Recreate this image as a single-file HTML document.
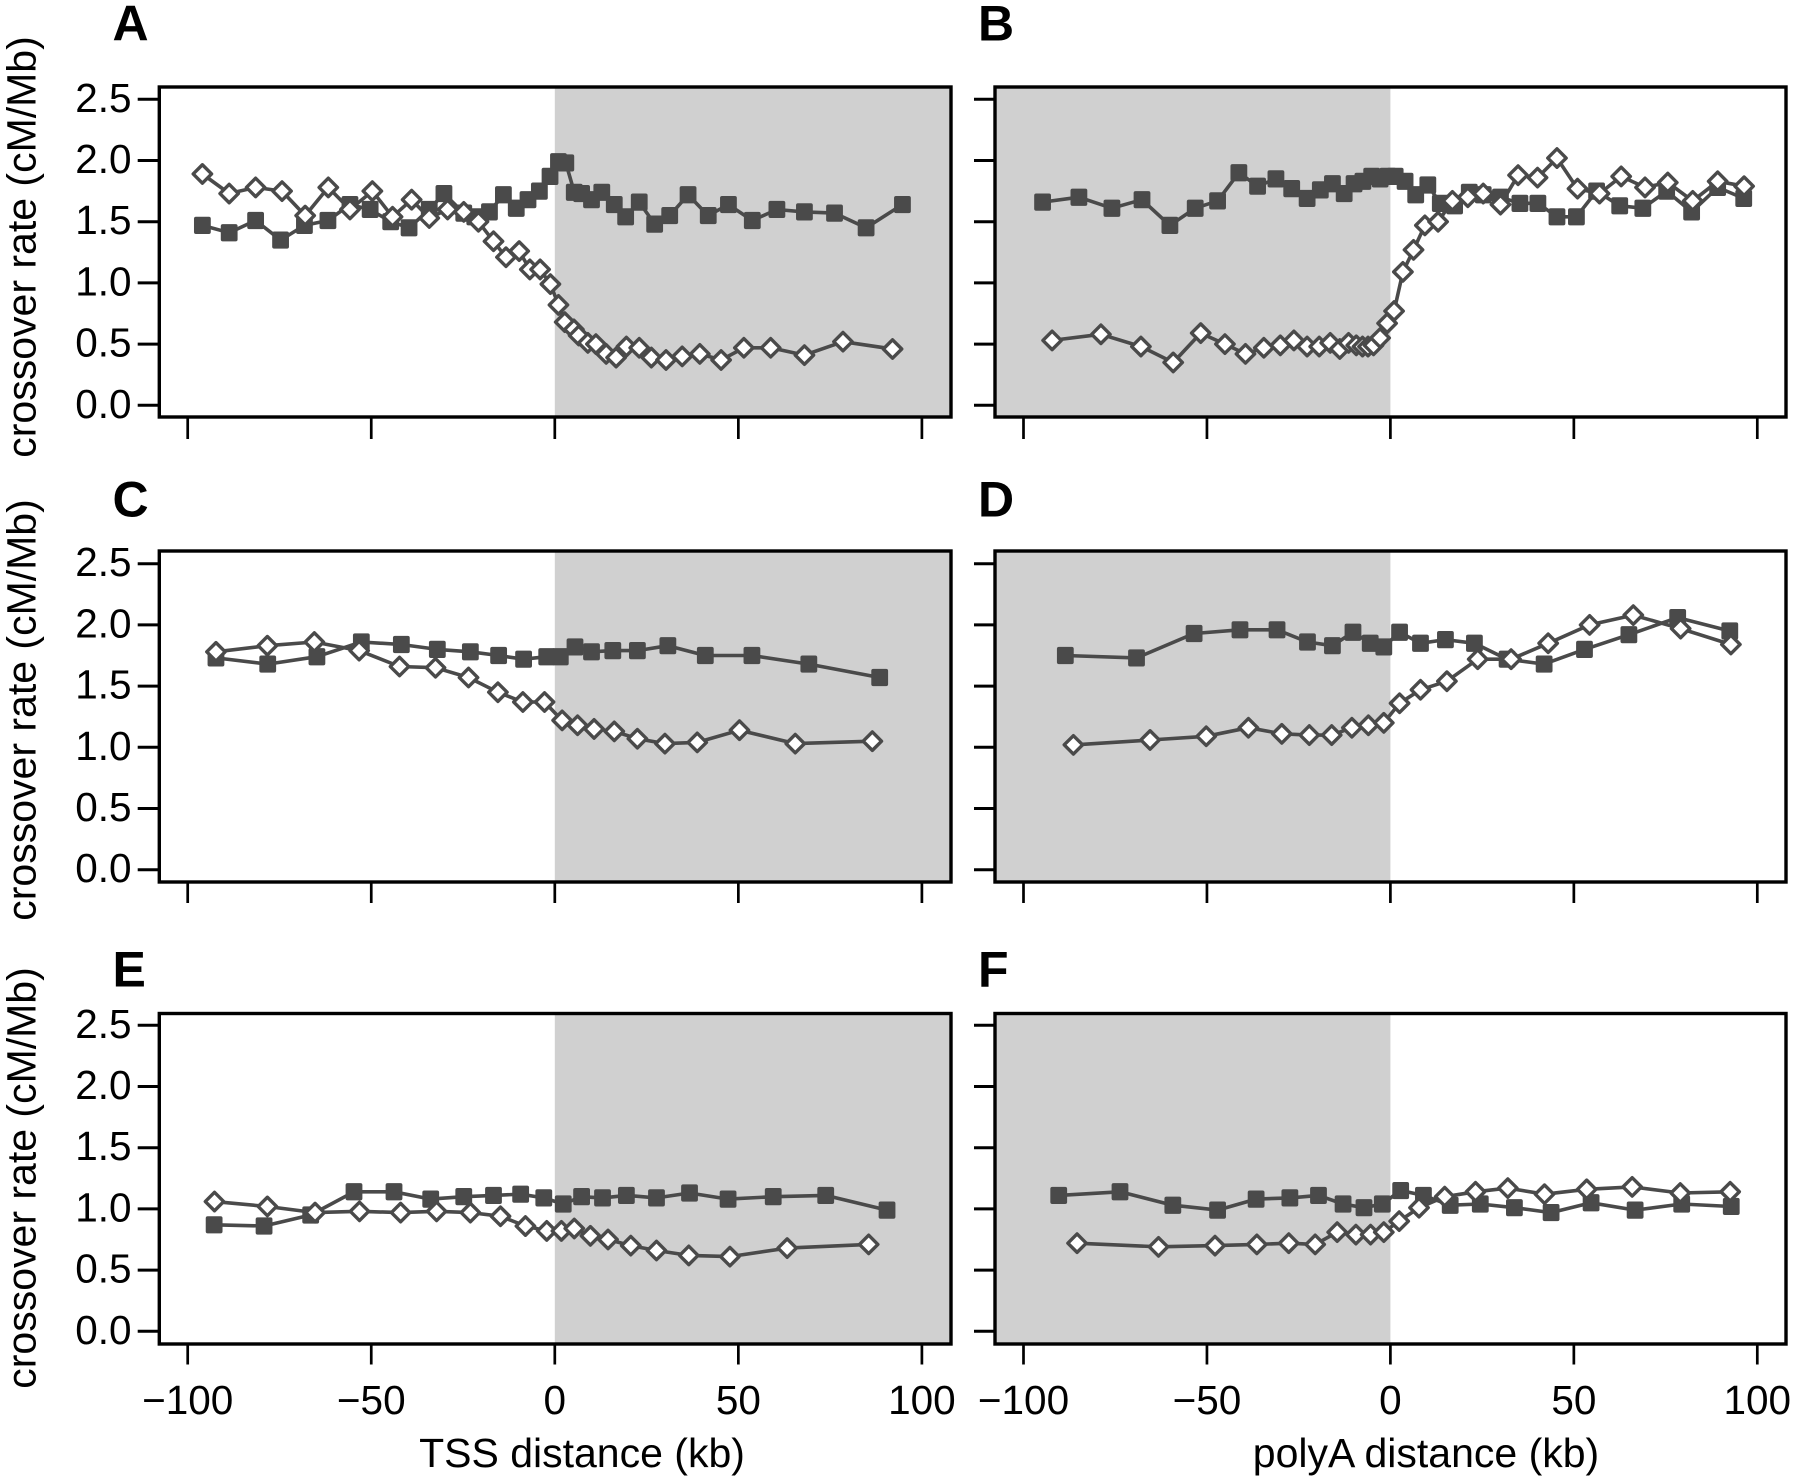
<!DOCTYPE html>
<html lang="en">
<head>
<meta charset="utf-8">
<title>Crossover rate versus TSS and polyA distance</title>
<style>
html,body{margin:0;padding:0;background:#fff;}
svg{display:block;font-family:"Liberation Sans",Arial,sans-serif;}
</style>
</head>
<body>
<svg id="figure" xmlns="http://www.w3.org/2000/svg" width="1800" height="1480" viewBox="0 0 1800 1480"></svg>
<script>
const yTickValues = [0, 0.5, 1, 1.5, 2, 2.5];
const xTickValues = [-100, -50, 0, 50, 100];
const panelIds = ["A", "B", "C", "D", "E", "F"];
const xTitles = ["TSS distance (kb)", "polyA distance (kb)"];
const yTitle = "crossover rate (cM/Mb)";

const aSquareKb = [-96,-88.7,-81.5,-74.7,-68.2,-61.8,-55.8,-50.3,-44.7,-39.7,-34.2,-30.2,-24.8,-21.8,-17.8,-14,-10.5,-7.3,-4.2,-1.3,1,3,5.3,7.3,10,12.8,16.2,19.3,23,27.2,31.3,36.3,41.8,47.3,53.8,60.5,68,76.2,84.8,94.7];
const aSquareRate = [1.47,1.41,1.51,1.35,1.47,1.51,1.64,1.60,1.50,1.45,1.60,1.73,1.57,1.54,1.58,1.72,1.61,1.68,1.75,1.87,1.99,1.98,1.74,1.73,1.68,1.74,1.64,1.54,1.66,1.48,1.55,1.72,1.55,1.64,1.51,1.60,1.58,1.57,1.45,1.64];
const aDiamondKb = [-96,-88.7,-81.5,-74.3,-68,-61.7,-55.8,-49.7,-44.2,-39,-34.2,-29.2,-24.8,-20.8,-16.7,-13.3,-9.7,-6.8,-4,-1.2,1,2.7,5.2,6.5,9,11.2,14,16.7,19.5,23,26.3,30.3,34.7,39.5,45.3,51.5,58.8,68,78.5,92];
const aDiamondRate = [1.89,1.73,1.78,1.75,1.55,1.78,1.60,1.75,1.54,1.68,1.53,1.60,1.58,1.50,1.34,1.21,1.26,1.11,1.11,0.99,0.82,0.68,0.62,0.57,0.51,0.50,0.42,0.39,0.48,0.47,0.39,0.37,0.40,0.42,0.37,0.47,0.47,0.41,0.52,0.46];

const bSquareKb = [-94.8,-84.9,-75.9,-67.7,-60.1,-53.2,-47.1,-41.3,-36.2,-31.2,-26.9,-22.7,-19.1,-15.8,-12.6,-9.9,-7.5,-5.1,-2.8,-0.7,1.3,4,6.9,10.2,13.6,17.5,21.5,25.3,30,35.3,40.2,45.4,50.7,56.2,62.5,68.8,75.3,82.1,89.2,96.3];
const bSquareRate = [1.66,1.70,1.61,1.68,1.47,1.61,1.67,1.90,1.79,1.85,1.77,1.69,1.76,1.81,1.73,1.81,1.83,1.87,1.85,1.87,1.87,1.83,1.72,1.80,1.65,1.63,1.74,1.72,1.70,1.65,1.65,1.54,1.54,1.75,1.63,1.61,1.75,1.58,1.78,1.69];
const bDiamondKb = [-92.2,-78.9,-68,-59.2,-51.7,-45.1,-39.5,-34.5,-30,-26.3,-22.7,-19.4,-16.4,-13.8,-11.4,-9.3,-7.6,-6.1,-4.6,-2.8,-0.9,1,3.4,6.3,9.4,13,16.9,21.1,25.3,30,34.8,40.1,45.4,51,57,62.9,69.4,75.6,82.4,89.2,96.4];
const bDiamondRate = [0.53,0.58,0.48,0.35,0.59,0.50,0.42,0.47,0.49,0.53,0.48,0.48,0.51,0.46,0.51,0.49,0.48,0.48,0.49,0.55,0.67,0.77,1.09,1.27,1.47,1.50,1.67,1.70,1.73,1.64,1.88,1.86,2.02,1.77,1.73,1.87,1.78,1.82,1.67,1.83,1.79];

const cSquareKb = [-92.3,-78.2,-64.8,-52.7,-41.8,-32,-23,-15.3,-8.5,-2.2,1.5,5.5,10,15.8,22.5,30.8,41,53.7,69.2,88.5];
const cSquareRate = [1.73,1.68,1.74,1.86,1.84,1.80,1.78,1.75,1.72,1.74,1.74,1.82,1.78,1.79,1.79,1.83,1.75,1.75,1.68,1.57];
const cDiamondKb = [-92.3,-78.3,-65.5,-53.3,-42.3,-32.5,-23.5,-15.5,-8.7,-2.8,2,6.2,10.7,16.2,22.5,30,38.8,50.3,65.5,86.5];
const cDiamondRate = [1.78,1.83,1.86,1.79,1.66,1.65,1.57,1.45,1.37,1.37,1.22,1.18,1.15,1.13,1.07,1.03,1.04,1.14,1.03,1.05];

const dSquareKb = [-88.6,-69.2,-53.5,-41,-30.9,-22.6,-15.8,-10.2,-5.5,-1.8,2.5,8.2,15,22.9,31.8,41.9,52.9,65,78.3,92.5];
const dSquareRate = [1.75,1.73,1.93,1.96,1.96,1.86,1.83,1.94,1.85,1.82,1.94,1.85,1.88,1.85,1.72,1.68,1.80,1.92,2.06,1.95];
const dDiamondKb = [-86.4,-65.5,-50.2,-38.7,-29.6,-22.1,-16,-10.5,-6,-1.8,2.5,8.2,15.4,23.8,32.9,43,54.3,66.2,79.1,92.8];
const dDiamondRate = [1.02,1.06,1.09,1.16,1.11,1.10,1.10,1.16,1.18,1.20,1.36,1.47,1.54,1.72,1.72,1.85,2.00,2.08,1.97,1.84];

const eSquareKb = [-92.8,-79.2,-66.5,-54.7,-43.8,-33.8,-24.8,-16.7,-9.3,-3,2.3,7.3,13,19.5,27.7,36.7,47.2,59.5,73.8,90.5];
const eSquareRate = [0.87,0.86,0.95,1.14,1.14,1.08,1.10,1.11,1.12,1.09,1.04,1.10,1.09,1.11,1.09,1.13,1.08,1.10,1.11,0.99];
const eDiamondKb = [-92.7,-78.3,-65.3,-53.2,-42,-32.2,-23,-14.8,-8,-2.2,1.8,5.3,9.7,14.5,20.7,27.7,36.5,47.7,63.3,85.5];
const eDiamondRate = [1.06,1.02,0.97,0.98,0.97,0.98,0.97,0.94,0.86,0.82,0.82,0.84,0.78,0.75,0.70,0.66,0.62,0.61,0.68,0.71];

const fSquareKb = [-90.4,-73.7,-59.3,-47.1,-36.6,-27.4,-19.6,-12.9,-7.2,-2.2,2.8,9,16.3,24.5,33.8,43.8,54.7,66.7,79.4,92.9];
const fSquareRate = [1.11,1.14,1.03,0.99,1.08,1.09,1.11,1.04,1.01,1.04,1.15,1.11,1.03,1.04,1.01,0.97,1.05,0.99,1.04,1.02];
const fDiamondKb = [-85.4,-63.2,-47.8,-36.4,-27.7,-20.5,-14.5,-9.4,-5.4,-1.8,2.4,7.8,14.8,23.2,32,42,53.5,65.9,79,92.6];
const fDiamondRate = [0.72,0.69,0.70,0.71,0.72,0.71,0.81,0.79,0.79,0.81,0.90,1.01,1.10,1.14,1.17,1.12,1.16,1.18,1.13,1.14];

const squareKbByPanel = [aSquareKb, bSquareKb, cSquareKb, dSquareKb, eSquareKb, fSquareKb];
const squareRateByPanel = [aSquareRate, bSquareRate, cSquareRate, dSquareRate, eSquareRate, fSquareRate];
const diamondKbByPanel = [aDiamondKb, bDiamondKb, cDiamondKb, dDiamondKb, eDiamondKb, fDiamondKb];
const diamondRateByPanel = [aDiamondRate, bDiamondRate, cDiamondRate, dDiamondRate, eDiamondRate, fDiamondRate];

const SVG_NS = "http://www.w3.org/2000/svg";
const INK = "#4a4a4a";
const svg = document.getElementById("figure");

// layout geometry
const columnLayout = [
  { left: 159.3, right: 951, zero: 554.8, perKb: 3.671, tickLeft: 137.7, letterX: 112.5 },
  { left: 995, right: 1786, zero: 1390.4, perKb: 3.669, tickLeft: 974, letterX: 978 }
];
const rowLayout = [
  { top: 87, bottom: 417, zero: 405.3, tickBottom: 439, letterY: 40.7, yTitleCenter: 247 },
  { top: 551, bottom: 882, zero: 869.7, tickBottom: 903, letterY: 516.3, yTitleCenter: 710 },
  { top: 1013.5, bottom: 1344, zero: 1331.3, tickBottom: 1364.5, letterY: 986.5, yTitleCenter: 1178 }
];
const PER_RATE = 122.4;

function xScale(col, kb) {
  return columnLayout[col].zero + kb * columnLayout[col].perKb;
}
function yScale(row, rate) {
  return rowLayout[row].zero - rate * PER_RATE;
}
function make(tag, parent) {
  const el = document.createElementNS(SVG_NS, tag);
  parent.appendChild(el);
  return el;
}
function setAll(el, attrs) {
  for (const k in attrs) el.setAttribute(k, attrs[k]);
}

panelIds.forEach(function (id, p) {
  const col = p % 2;
  const row = Math.floor(p / 2);
  const c = columnLayout[col];
  const r = rowLayout[row];
  const lower = id.toLowerCase();

  const g = make("g", svg);
  
  

  // shaded gene-body region
  const shade = make("rect", g);
  
  
  const shadeX0 = col === 0 ? xScale(col, 0) : c.left;
  const shadeX1 = col === 0 ? c.right : xScale(col, 0);
  setAll(shade, { x: shadeX0, y: r.top, width: shadeX1 - shadeX0, height: r.bottom - r.top, fill: "#d0d0d0" });

  // y ticks
  yTickValues.forEach(function (v) {
    const t = make("line", g);
    
    
    setAll(t, { x1: c.tickLeft, x2: c.left, y1: yScale(row, v), y2: yScale(row, v), stroke: "#000", "stroke-width": 3 });
    if (col === 0) {
      const label = make("text", g);
      
      
      setAll(label, { x: 131.5, y: yScale(row, v) + 12.5, "text-anchor": "end", "font-size": 40.5, fill: "#000" });
      label.textContent = v.toFixed(1);
    }
  });

  // x ticks
  xTickValues.forEach(function (v) {
    const t = make("line", g);
    
    
    setAll(t, { x1: xScale(col, v), x2: xScale(col, v), y1: r.bottom, y2: r.tickBottom, stroke: "#000", "stroke-width": 2.7 });
    if (row === 2) {
      const label = make("text", g);
      
      
      setAll(label, { x: xScale(col, v), y: 1414, "text-anchor": "middle", "font-size": 40.5, fill: "#000" });
      label.textContent = v < 0 ? "\u2212" + Math.abs(v) : String(v);
    }
  });

  // square series
  const squareLine = make("polyline", g);
  
  
  setAll(squareLine, {
    points: squareKbByPanel[p].map(function (k, i) { return xScale(col, k).toFixed(1) + "," + yScale(row, squareRateByPanel[p][i]).toFixed(1); }).join(" "),
    fill: "none", stroke: INK, "stroke-width": 3.6, "stroke-linejoin": "round"
  });

  // diamond series line
  const diamondLine = make("polyline", g);
  
  
  setAll(diamondLine, {
    points: diamondKbByPanel[p].map(function (k, i) { return xScale(col, k).toFixed(1) + "," + yScale(row, diamondRateByPanel[p][i]).toFixed(1); }).join(" "),
    fill: "none", stroke: INK, "stroke-width": 3.6, "stroke-linejoin": "round"
  });

  // square markers
  squareKbByPanel[p].forEach(function (k, i) {
    const m = make("rect", g);
    
    
    setAll(m, { x: xScale(col, k) - 8.4, y: yScale(row, squareRateByPanel[p][i]) - 8.6, width: 16.8, height: 17.2, rx: 2, fill: INK });
  });

  // diamond markers
  diamondKbByPanel[p].forEach(function (k, i) {
    const x = xScale(col, k);
    const y = yScale(row, diamondRateByPanel[p][i]);
    const m = make("polygon", g);
    
    
    setAll(m, {
      points: x + "," + (y - 9.2) + " " + (x + 9.2) + "," + y + " " + x + "," + (y + 9.2) + " " + (x - 9.2) + "," + y,
      fill: "#fff", stroke: INK, "stroke-width": 3.4, "stroke-linejoin": "round"
    });
  });

  // frame
  const frame = make("rect", g);
  
  
  setAll(frame, { x: c.left, y: r.top, width: c.right - c.left, height: r.bottom - r.top, fill: "none", stroke: "#000", "stroke-width": 3.4 });

  // panel letter
  const letter = make("text", g);
  
  
  setAll(letter, { x: c.letterX, y: r.letterY, "font-size": 50, "font-weight": "bold", fill: "#000" });
  letter.textContent = id;

  // y-axis title
  if (col === 0) {
    const title = make("text", g);
    
    
    setAll(title, {
      transform: "translate(35.5," + r.yTitleCenter + ") rotate(-90)",
      "text-anchor": "middle", "font-size": 41, fill: "#000"
    });
    title.textContent = yTitle;
  }

  // x-axis title
  if (row === 2) {
    const title = make("text", g);
    
    
    setAll(title, { x: col === 0 ? 582 : 1426, y: 1467, "text-anchor": "middle", "font-size": 41, fill: "#000" });
    title.textContent = xTitles[col];
  }
});
</script>
</body>
</html>
